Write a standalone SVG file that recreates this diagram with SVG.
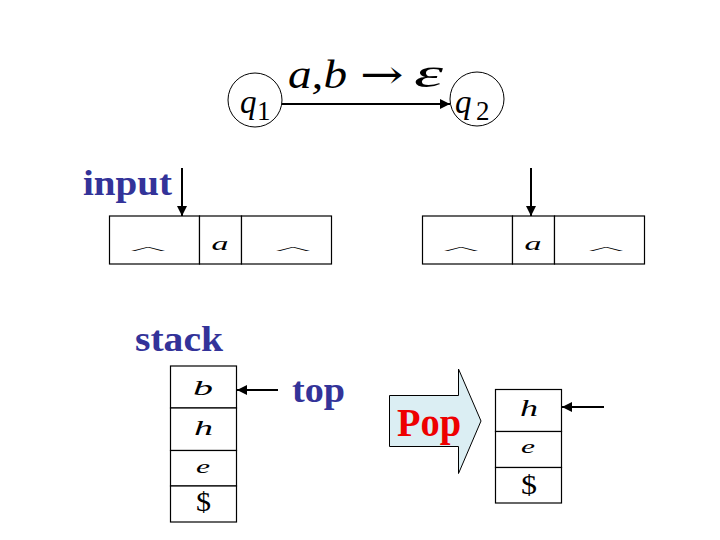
<svg xmlns="http://www.w3.org/2000/svg" width="720" height="540" viewBox="0 0 720 540">
<style>
.bg{fill:#ffffff}
.cell{fill:#ffffff;stroke:#000000;stroke-width:1.2}
.state{fill:#ffffff;stroke:#000000;stroke-width:1}
.conn{stroke:#000000;stroke-width:2;fill:none}
.lbl{font-family:"Liberation Serif","Times New Roman",serif;font-weight:bold;fill:#333399}
.it{font-family:"Liberation Serif","Times New Roman",serif;font-style:italic;fill:#000000}
.rm{font-family:"Liberation Serif","Times New Roman",serif;fill:#000000}
.hat{font-family:"Liberation Serif","Times New Roman",serif;fill:#000000;font-size:24px}
</style>
<defs>
<marker id="ah" viewBox="0 0 10 10" refX="10" refY="5" markerWidth="5.5" markerHeight="5" markerUnits="strokeWidth" orient="auto">
<path d="M0,0 L10,5 L0,10 Z" fill="#000000"/>
</marker>
</defs>
<rect class="bg" x="0" y="0" width="720" height="540"/>

<g id="connectors">
<line class="conn" x1="282" y1="104" x2="450" y2="104" marker-end="url(#ah)"/>
<line class="conn" x1="182" y1="168" x2="182" y2="216" marker-end="url(#ah)"/>
<line class="conn" x1="531" y1="168" x2="531" y2="216" marker-end="url(#ah)"/>
<line class="conn" x1="278" y1="390" x2="237" y2="390" marker-end="url(#ah)"/>
<line class="conn" x1="604" y1="407" x2="562" y2="407" marker-end="url(#ah)"/>
</g>

<g id="transition-label">
<text class="it" font-size="40" x="288" y="88" textLength="59" lengthAdjust="spacingAndGlyphs">a,b</text>
<text font-family="DejaVu Serif, Liberation Serif, serif" font-size="40" fill="#000000" transform="translate(360,88) scale(1.3,1)">→</text>
<text class="it" font-size="40" x="414" y="87" textLength="29" lengthAdjust="spacingAndGlyphs">ε</text>
</g>

<g id="q1">
<circle class="state" cx="255" cy="100" r="27"/>
<text class="it" font-size="33" x="240" y="113">q</text>
<text class="rm" font-size="27" x="257" y="120">1</text>
</g>

<g id="q2">
<circle class="state" cx="477" cy="99" r="27"/>
<text class="it" font-size="33" x="455" y="113">q</text>
<text class="rm" font-size="27" x="476" y="120">2</text>
</g>

<g id="input-label">
<text class="lbl" font-size="36" x="83" y="195" textLength="89" lengthAdjust="spacingAndGlyphs">input</text>
</g>

<g id="tape1">
<rect class="cell" x="109.5" y="216" width="90" height="48"/>
<rect class="cell" x="199.5" y="216" width="42" height="48"/>
<rect class="cell" x="241.5" y="216" width="90" height="48"/>
<text class="hat" transform="translate(148,253) scale(1,0.3)" text-anchor="middle" textLength="36" lengthAdjust="spacingAndGlyphs">^</text>
<text class="it" font-size="19" x="220" y="250" text-anchor="middle" textLength="17" lengthAdjust="spacingAndGlyphs">a</text>
<text class="hat" transform="translate(293,253) scale(1,0.3)" text-anchor="middle" textLength="36" lengthAdjust="spacingAndGlyphs">^</text>
</g>

<g id="tape2">
<rect class="cell" x="422.5" y="216" width="90" height="48"/>
<rect class="cell" x="512.5" y="216" width="42" height="48"/>
<rect class="cell" x="554.5" y="216" width="90" height="48"/>
<text class="hat" transform="translate(461,253) scale(1,0.3)" text-anchor="middle" textLength="36" lengthAdjust="spacingAndGlyphs">^</text>
<text class="it" font-size="19" x="533" y="250" text-anchor="middle" textLength="17" lengthAdjust="spacingAndGlyphs">a</text>
<text class="hat" transform="translate(606,253) scale(1,0.3)" text-anchor="middle" textLength="36" lengthAdjust="spacingAndGlyphs">^</text>
</g>

<g id="stack-label">
<text class="lbl" font-size="35" x="135" y="351" textLength="88" lengthAdjust="spacingAndGlyphs">stack</text>
</g>

<g id="stack1">
<rect class="cell" x="170.5" y="366" width="66" height="42"/>
<rect class="cell" x="170.5" y="408" width="66" height="42.5"/>
<rect class="cell" x="170.5" y="450.5" width="66" height="35.5"/>
<rect class="cell" x="170.5" y="486" width="66" height="36"/>
<text class="it" font-size="21" x="203" y="395" text-anchor="middle" textLength="20" lengthAdjust="spacingAndGlyphs">b</text>
<text class="it" font-size="21" x="203.5" y="435" text-anchor="middle" textLength="19" lengthAdjust="spacingAndGlyphs">h</text>
<text class="it" font-size="19" x="203" y="473" text-anchor="middle" textLength="14" lengthAdjust="spacingAndGlyphs">e</text>
<text class="rm" font-size="28" x="203.5" y="511" text-anchor="middle" textLength="15" lengthAdjust="spacingAndGlyphs">$</text>
</g>

<g id="top-label">
<text class="lbl" font-size="36" x="292" y="402" textLength="53" lengthAdjust="spacingAndGlyphs">top</text>
</g>

<g id="pop-arrow">
<polygon points="389.5,395.5 458.5,395.5 458.5,369 481,421 458.5,473.5 458.5,446.5 389.5,446.5" fill="#dbeef3" stroke="#000000" stroke-width="1"/>
<text font-family="Liberation Serif, Times New Roman, serif" font-weight="bold" font-size="40" fill="#ee0000" x="397" y="436" textLength="64" lengthAdjust="spacingAndGlyphs">Pop</text>
</g>

<g id="stack2">
<rect class="cell" x="495.5" y="389.5" width="66" height="42"/>
<rect class="cell" x="495.5" y="431.5" width="66" height="36"/>
<rect class="cell" x="495.5" y="467.5" width="66" height="35.5"/>
<text class="it" font-size="24" x="529" y="416" text-anchor="middle" textLength="18" lengthAdjust="spacingAndGlyphs">h</text>
<text class="it" font-size="18" x="528" y="453" text-anchor="middle" textLength="14" lengthAdjust="spacingAndGlyphs">e</text>
<text class="rm" font-size="28" x="529" y="494" text-anchor="middle" textLength="16" lengthAdjust="spacingAndGlyphs">$</text>
</g>
</svg>
